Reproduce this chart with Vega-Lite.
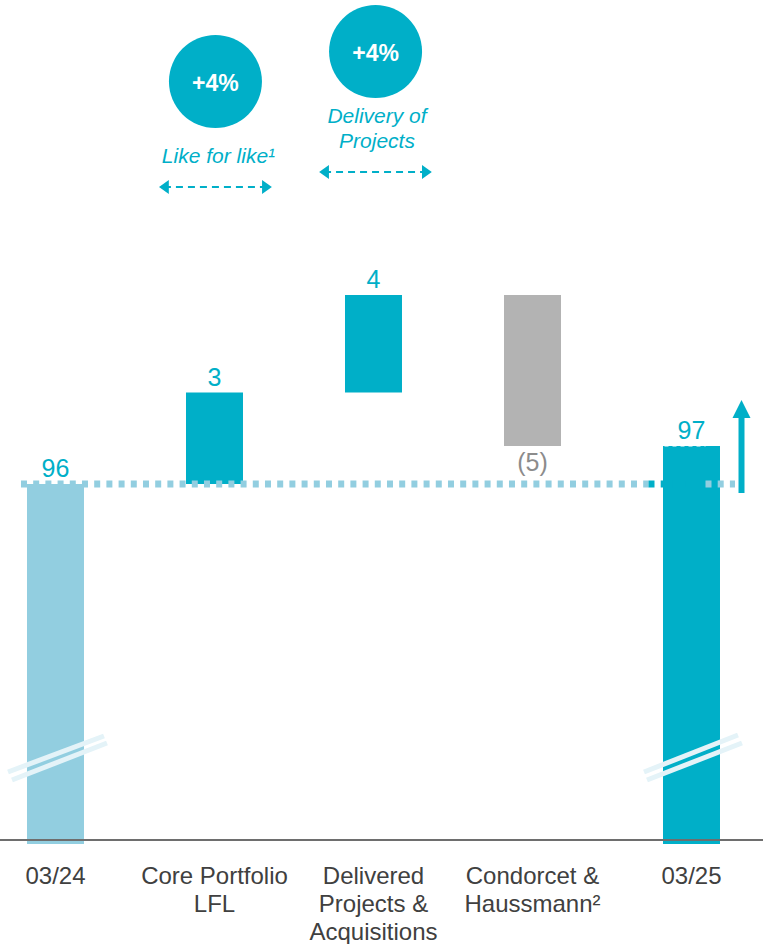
{
  "$schema": "https://vega.github.io/schema/vega-lite/v6.json",
  "width": 763,
  "height": 944,
  "autosize": {"type": "none"},
  "padding": 0,
  "background": "white",
  "config": {"view": {"stroke": null}, "font": "Liberation Sans", "scale": {"continuousPadding": 0}},
  "datasets": {
    "bars": [
      {"cat": "03/24", "i": 0, "y0": 84.2, "y1": 96.0, "kind": "start"},
      {"cat": "Core Portfolio LFL", "i": 1, "y0": 96.0, "y1": 99.0, "kind": "up"},
      {"cat": "Delivered Projects & Acquisitions", "i": 2, "y0": 99.0, "y1": 102.2, "kind": "up"},
      {"cat": "Condorcet & Haussmann", "i": 3, "y0": 102.2, "y1": 97.25, "kind": "down"},
      {"cat": "03/25", "i": 4, "y0": 84.2, "y1": 97.25, "kind": "end"}
    ],
    "vals": [
      {"i": 0, "y": 96.0, "label": "96", "sign": "pos"},
      {"i": 1, "y": 99.0, "label": "3", "sign": "pos"},
      {"i": 2, "y": 102.2, "label": "4", "sign": "pos"},
      {"i": 3, "y": 97.25, "label": "(5)", "sign": "neg"},
      {"i": 4, "y": 97.25, "label": "97", "sign": "pos"}
    ],
    "cats": [
      {"i": 0, "name": "03/24"},
      {"i": 1, "name": "Core Portfolio\nLFL"},
      {"i": 2, "name": "Delivered\nProjects &\nAcquisitions"},
      {"i": 3, "name": "Condorcet &\nHaussmann²"},
      {"i": 4, "name": "03/25"}
    ],
    "dots": [
      {"x": -0.2170, "x2": 3.7296, "y": 96.0, "seg": "teal"},
      {"x": 3.7296, "x2": 4.0881, "y": 96.0, "seg": "white"},
      {"x": 4.0881, "x2": 4.2736, "y": 96.0, "seg": "teal"}
    ],
    "topEdge": [
      {"x": 3.7296, "x2": 4.0881, "y": 97.25}
    ],
    "breaks": [
      {"x": -0.2987, "x2": 0.305, "y": 86.557, "y2": 87.738},
      {"x": -0.2736, "x2": 0.3239, "y": 86.295, "y2": 87.508},
      {"x": 3.7013, "x2": 4.2925, "y": 86.557, "y2": 87.77},
      {"x": 3.7201, "x2": 4.3176, "y": 86.295, "y2": 87.508}
    ],
    "circles": [
      {"x": 1.006, "y": 109.197, "pct": "+4%"},
      {"x": 2.013, "y": 110.18, "pct": "+4%"}
    ],
    "notes": [
      {"x": 1.025, "y": 106.525, "text": "Like for like¹"},
      {"x": 2.022, "y": 107.836, "text": "Delivery of\nProjects"}
    ],
    "arrows": [
      {"x": 0.682, "x2": 1.33, "y": 105.738},
      {"x": 1.689, "x2": 2.336, "y": 106.23}
    ],
    "heads": [
      {"x": 0.682, "y": 105.738, "dir": "left"},
      {"x": 1.33, "y": 105.738, "dir": "right"},
      {"x": 1.689, "y": 106.23, "dir": "left"},
      {"x": 2.336, "y": 106.23, "dir": "right"}
    ],
    "upArrow": [
      {"x": 4.3145, "y": 95.705, "y2": 98.164, "hy": 98.459}
    ],
    "axisLine": [
      {"x": -0.349, "x2": 4.4497, "y": 84.33}
    ]
  },
  "layer": [
    {
      "data": {"name": "bars"},
      "mark": {"type": "bar", "size": 57, "orient": "vertical"},
      "encoding": {
        "x": {"field": "i", "type": "quantitative", "scale": {"domain": [-0.349, 4.4497], "nice": false, "zero": false, "padding": 0}, "axis": null},
        "y": {"field": "y0", "type": "quantitative", "scale": {"domain": [80.918, 111.869], "nice": false, "zero": false, "padding": 0}, "axis": null},
        "y2": {"field": "y1"},
        "color": {"field": "kind", "type": "nominal", "legend": null,
          "scale": {"domain": ["start", "up", "down", "end"], "range": ["#92CEE0", "#00AFC8", "#B3B3B3", "#00AFC8"]}}
      }
    },
    {
      "data": {"name": "topEdge"},
      "mark": {"type": "rule", "color": "#FFFFFF", "strokeWidth": 1.5, "strokeDash": [4, 4], "opacity": 0.7},
      "encoding": {
        "x": {"field": "x", "type": "quantitative"},
        "x2": {"field": "x2"},
        "y": {"field": "y", "type": "quantitative"}
      }
    },
    {
      "data": {"name": "breaks"},
      "mark": {"type": "rule", "color": "#E4F3F8", "strokeWidth": 5},
      "encoding": {
        "x": {"field": "x", "type": "quantitative"},
        "x2": {"field": "x2"},
        "y": {"field": "y", "type": "quantitative"},
        "y2": {"field": "y2"}
      }
    },
    {
      "data": {"name": "dots"},
      "mark": {"type": "rule", "strokeWidth": 7, "strokeDash": [6, 6.2], "strokeCap": "butt", "opacity": 1, "strokeOpacity": 1},
      "encoding": {
        "x": {"field": "x", "type": "quantitative"},
        "x2": {"field": "x2"},
        "y": {"field": "y", "type": "quantitative"},
        "color": {"field": "seg", "type": "nominal", "legend": null,
          "scale": {"domain": ["teal", "white"], "range": ["#00AFC8", "#FFFFFF"]}}
      }
    },
    {
      "data": {"name": "axisLine"},
      "mark": {"type": "rule", "color": "#6E6E6E", "strokeWidth": 2},
      "encoding": {
        "x": {"field": "x", "type": "quantitative"},
        "x2": {"field": "x2"},
        "y": {"field": "y", "type": "quantitative"}
      }
    },
    {
      "data": {"name": "vals"},
      "transform": [{"filter": "datum.sign == 'pos'"}],
      "mark": {"type": "text", "fontSize": 25, "color": "#00AFC8", "baseline": "alphabetic", "align": "center", "dy": -7},
      "encoding": {
        "x": {"field": "i", "type": "quantitative"},
        "y": {"field": "y", "type": "quantitative"},
        "text": {"field": "label"}
      }
    },
    {
      "data": {"name": "vals"},
      "transform": [{"filter": "datum.sign == 'neg'"}],
      "mark": {"type": "text", "fontSize": 25, "color": "#8C8C8C", "baseline": "alphabetic", "align": "center", "dy": 25},
      "encoding": {
        "x": {"field": "i", "type": "quantitative"},
        "y": {"field": "y", "type": "quantitative"},
        "text": {"field": "label"}
      }
    },
    {
      "data": {"name": "cats"},
      "mark": {"type": "text", "fontSize": 24, "color": "#404040", "baseline": "alphabetic", "align": "center", "lineBreak": "\n", "lineHeight": 28},
      "encoding": {
        "x": {"field": "i", "type": "quantitative"},
        "y": {"datum": 82.885, "type": "quantitative"},
        "text": {"field": "name"}
      }
    },
    {
      "data": {"name": "circles"},
      "mark": {"type": "point", "shape": "circle", "filled": true, "size": 8649, "color": "#00AFC8", "opacity": 1},
      "encoding": {
        "x": {"field": "x", "type": "quantitative"},
        "y": {"field": "y", "type": "quantitative"}
      }
    },
    {
      "data": {"name": "circles"},
      "mark": {"type": "text", "fontSize": 23, "fontWeight": "bold", "color": "white", "baseline": "alphabetic", "align": "center", "dy": 9.5},
      "encoding": {
        "x": {"field": "x", "type": "quantitative"},
        "y": {"field": "y", "type": "quantitative"},
        "text": {"field": "pct"}
      }
    },
    {
      "data": {"name": "notes"},
      "mark": {"type": "text", "fontSize": 21, "fontStyle": "italic", "color": "#00AFC8", "baseline": "alphabetic", "align": "center", "lineBreak": "\n", "lineHeight": 25},
      "encoding": {
        "x": {"field": "x", "type": "quantitative"},
        "y": {"field": "y", "type": "quantitative"},
        "text": {"field": "text"}
      }
    },
    {
      "data": {"name": "arrows"},
      "mark": {"type": "rule", "color": "#00AFC8", "strokeWidth": 2, "strokeDash": [7, 5]},
      "encoding": {
        "x": {"field": "x", "type": "quantitative"},
        "x2": {"field": "x2"},
        "y": {"field": "y", "type": "quantitative"}
      }
    },
    {
      "data": {"name": "heads"},
      "mark": {"type": "point", "filled": true, "size": 196, "color": "#00AFC8", "opacity": 1},
      "encoding": {
        "x": {"field": "x", "type": "quantitative"},
        "y": {"field": "y", "type": "quantitative"},
        "shape": {"field": "dir", "type": "nominal", "legend": null,
          "scale": {"domain": ["left", "right"], "range": ["M0.7,-1L-0.7,0L0.7,1Z", "M-0.7,-1L0.7,0L-0.7,1Z"]}}
      }
    },
    {
      "data": {"name": "upArrow"},
      "mark": {"type": "rule", "color": "#00AFC8", "strokeWidth": 6},
      "encoding": {
        "x": {"field": "x", "type": "quantitative"},
        "y": {"field": "y", "type": "quantitative"},
        "y2": {"field": "y2"}
      }
    },
    {
      "data": {"name": "upArrow"},
      "mark": {"type": "point", "filled": true, "size": 324, "color": "#00AFC8", "opacity": 1, "shape": "M-1,1L0,-1L1,1Z"},
      "encoding": {
        "x": {"field": "x", "type": "quantitative"},
        "y": {"field": "hy", "type": "quantitative"}
      }
    }
  ]
}
